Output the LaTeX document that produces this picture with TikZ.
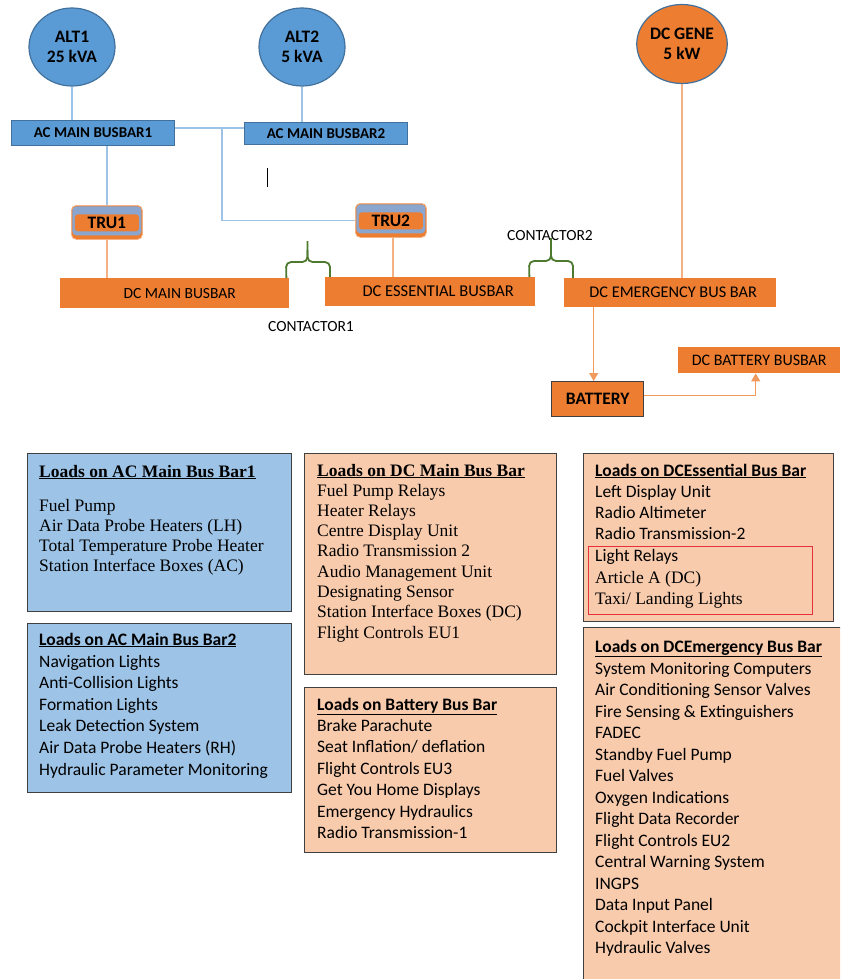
\documentclass[tikz,border=0pt]{standalone}
\usepackage{fontspec}
\setmainfont{Liberation Serif}
\newfontfamily\calfont{Carlito}
\usetikzlibrary{shapes.geometric,arrows.meta}
\definecolor{acblue}{HTML}{5B9BD5}
\definecolor{ellborder}{HTML}{41719C}
\definecolor{orangeC}{HTML}{ED7D31}
\definecolor{lorange}{HTML}{F4B183}
\definecolor{arrowC}{HTML}{F09A5E}
\definecolor{lblue}{HTML}{9DC3E6}
\definecolor{lbox}{HTML}{F8CBAD}
\definecolor{boxborder}{HTML}{404040}
\definecolor{trublue}{HTML}{8AA6CF}
\definecolor{greenC}{HTML}{4E7A30}
\definecolor{redC}{HTML}{E8303A}
\begin{document}
\begin{tikzpicture}[x=1pt,y=-1pt,
  ell/.style={ellipse, draw=ellborder, line width=1.2pt, inner sep=0pt, align=center,
    font=\calfont\bfseries\fontsize{17.5}{20}\selectfont},
  acbar/.style={rectangle, fill=acblue, draw=ellborder, line width=1pt, inner sep=0pt,
    font=\calfont\bfseries\fontsize{15}{18}\selectfont},
  dcbar/.style={rectangle, fill=orangeC, inner sep=0pt,
    font=\calfont\fontsize{15.5}{18}\selectfont},
  trubox/.style={rectangle, rounded corners=5pt, fill=orangeC, draw=lorange, line width=0.8pt,
    minimum width=71pt, minimum height=34pt, inner sep=0pt,
    font=\calfont\bfseries\fontsize{17.5}{20}\selectfont,
    path picture={
      \fill[trublue, rounded corners=4pt] ([shift={(1pt,-1pt)}]path picture bounding box.north west) rectangle ([shift={(-1pt,4pt)}]path picture bounding box.south east);
      \fill[orangeC, rounded corners=3pt] ([shift={(3.5pt,-9pt)}]path picture bounding box.north west) rectangle ([shift={(-3.5pt,8pt)}]path picture bounding box.south east);
    }},
  loadbox/.style={rectangle, draw=boxborder, line width=1pt, inner sep=0pt, anchor=north west},
  serifitem/.style={anchor=base west, inner sep=0pt, font=\fontsize{17.5}{20}\selectfont},
  sansitem/.style={anchor=base west, inner sep=0pt, font=\calfont\fontsize{17.5}{21}\selectfont},
  seriftitle/.style={anchor=base west, inner sep=0pt, font=\bfseries\fontsize{17.5}{20}\selectfont},
  sanstitle/.style={anchor=base west, inner sep=0pt, font=\calfont\bfseries\fontsize{17.5}{21}\selectfont},
  acline/.style={draw=lblue, line width=1.5pt},
  dcline/.style={draw=lorange, line width=1.3pt},
  arr/.style={draw=arrowC, line width=1.3pt, -{Triangle[length=8pt,width=9pt]}},
  brace/.style={draw=greenC, line width=1.8pt, rounded corners=5pt},
  contlabel/.style={inner sep=0pt, font=\calfont\fontsize{15.5}{18}\selectfont}
]
\useasboundingbox (0,0) rectangle (840,979);
\clip (0,0) rectangle (840,979);
\fill[white] (0,0) rectangle (840,979);

% sources
\node[ell, fill=acblue, minimum width=86pt, minimum height=78pt] (alt1) at (72,47) {ALT1\\25 kVA};
\node[ell, fill=acblue, minimum width=86pt, minimum height=78pt] (alt2) at (302,47) {ALT2\\5 kVA};
\node[ell, fill=orangeC, minimum width=89pt, minimum height=79pt] (dcgen) at (682,44) {DC GENE\\5 kW};

% AC busbars
\node[acbar, minimum width=163pt, minimum height=25pt, anchor=north west] (acbus1) at (11,120) {AC MAIN BUSBAR1};
\node[acbar, minimum width=163pt, minimum height=22pt, anchor=north west] (acbus2) at (244,122) {AC MAIN BUSBAR2};

% TRUs
\node[trubox, anchor=north west] (tru1) at (71,205) {TRU1};
\node[trubox, anchor=north west] (tru2) at (355,203) {TRU2};

% DC busbars
\node[dcbar, minimum width=229pt, minimum height=30pt, anchor=north west] (dcmain) at (60,278) {\hspace*{10pt}DC MAIN BUSBAR};
\node[dcbar, minimum width=210pt, minimum height=29pt, anchor=north west, font=\calfont\fontsize{16.5}{18}\selectfont] (dcess) at (325,277) {\hspace*{16pt}DC ESSENTIAL BUSBAR};
\node[dcbar, minimum width=212pt, minimum height=29pt, anchor=north west, font=\calfont\fontsize{16.3}{18}\selectfont] (dcemer) at (564,278) {\hspace*{6pt}DC EMERGENCY BUS BAR};
\node[dcbar, minimum width=162pt, minimum height=26pt, anchor=north west, font=\calfont\fontsize{16}{18}\selectfont] (battbus) at (678,347) {DC BATTERY BUSBAR};
\node[rectangle, fill=orangeC, draw=boxborder, line width=1.3pt, inner sep=0pt, minimum width=92pt, minimum height=35pt,
  anchor=north west, font=\calfont\bfseries\fontsize{17.5}{20}\selectfont] (battery) at (551,381) {BATTERY};

% AC connectors
\coordinate (j) at (222,128);
\draw[acline] (alt1.south) -- (alt1.south |- acbus1.north);
\draw[acline] (alt2.south) -- (alt2.south |- acbus2.north);
\draw[acline] (acbus1.east |- j) -- (acbus2.west |- j);
\draw[acline] (j) |- (tru2.west);
\draw[acline] (tru1.north |- acbus1.south) -- (tru1.north);

% DC connectors
\draw[dcline] (tru1.south) -- (tru1.south |- dcmain.north);
\draw[dcline] ([xshift=2pt]tru2.south) -- ([xshift=2pt]tru2.south |- dcess.north);
\draw[dcline] (dcgen.south) -- (dcgen.south |- dcemer.north);
\draw[arr] ([xshift=-4pt]battery.north |- dcemer.south) -- ([xshift=-4pt]battery.north);
\draw[arr] ([yshift=4pt]battery.east) -| ([xshift=-3.5pt]battbus.south);

% stray mark
\draw[black, line width=1pt] (267,168) -- (267,187);

% contactors
\node[contlabel] (c1) at (311,327) {CONTACTOR1};
\node[contlabel] (c2) at (550,235.5) {CONTACTOR2};
\draw[brace] ([xshift=-3pt]dcmain.north east) -- (286,262) -- (307.5,262) -- (307.5,241);
\draw[brace] ([xshift=5pt]dcess.north west) -- (330,262) -- (307.5,262) -- (307.5,250);
\draw[brace] ([xshift=-6pt]dcess.north east) -- (529,261) -- (551,261) -- (551,238);
\draw[brace] ([xshift=9pt]dcemer.north west) -- (573,261) -- (551,261) -- (551,248);

% load boxes
\node[loadbox, fill=lblue, minimum width=264pt, minimum height=158pt] (bAC1) at (27,453) {};
\node[seriftitle] (tAC1) at (39,477) {\underline{Loads on AC Main Bus Bar1}};
\foreach \t [count=\i] in {Fuel Pump, Air Data Probe Heaters (LH), Total Temperature Probe Heater, Station Interface Boxes (AC)}
  \node[serifitem] (ac1-\i) at (39,{511+20*(\i-1)}) {\t};

\node[loadbox, fill=lblue, minimum width=264pt, minimum height=169pt] (bAC2) at (27,623) {};
\node[sanstitle] (tAC2) at (39,645) {\underline{Loads on AC Main Bus Bar2}};
\foreach \t [count=\i] in {Navigation Lights, Anti-Collision Lights, Formation Lights, Leak Detection System, Air Data Probe Heaters (RH), Hydraulic Parameter Monitoring}
  \node[sansitem] (ac2-\i) at (39,{667+21.6*(\i-1)}) {\t};

\node[loadbox, fill=lbox, minimum width=252pt, minimum height=221pt] (bDCM) at (304,453) {};
\node[seriftitle] (tDCM) at (317,476) {\underline{Loads on DC Main Bus Bar}};
\foreach \t [count=\i] in {Fuel Pump Relays, Heater Relays, Centre Display Unit, Radio Transmission 2, Audio Management Unit, Designating Sensor, Station Interface Boxes (DC), Flight Controls EU1}
  \node[serifitem] (dcm-\i) at (317,{496+20.3*(\i-1)}) {\t};

\node[loadbox, fill=lbox, minimum width=252pt, minimum height=165pt] (bBat) at (304,687) {};
\node[sanstitle] (tBat) at (317,710) {\underline{Loads on Battery Bus Bar}};
\foreach \t [count=\i] in {Brake Parachute, Seat Inflation/ deflation, Flight Controls EU3, Get You Home Displays, Emergency Hydraulics, Radio Transmission-1}
  \node[sansitem] (bat-\i) at (317,{731+21.5*(\i-1)}) {\t};

\node[loadbox, fill=lbox, minimum width=250pt, minimum height=168pt] (bEss) at (583,453) {};
\node[sanstitle] (tEss) at (595,476) {\underline{Loads on DCEssential Bus Bar}};
\foreach \t [count=\i] in {Left Display Unit, Radio Altimeter, Radio Transmission-2}
  \node[sansitem] (ess-\i) at (595,{497+21.4*(\i-1)}) {\t};
\node[draw=redC, line width=1.2pt, inner sep=0pt, minimum width=224pt, minimum height=68pt, anchor=north west] (redbox) at (588,546) {};
\node[sansitem] (ess-4) at (595,561.5) {Light Relays};
\node[serifitem] (ess-5) at (595,583) {Article A (DC)};
\node[serifitem] (ess-6) at (595,604) {Taxi/ Landing Lights};

\node[loadbox, fill=lbox, minimum width=262pt, minimum height=360pt] (bEm) at (583,627) {};
\node[sanstitle] (tEm) at (595,652) {\underline{Loads on DCEmergency Bus Bar}};
\foreach \t [count=\i] in {System Monitoring Computers, Air Conditioning Sensor Valves, Fire Sensing \& Extinguishers, FADEC, Standby Fuel Pump, Fuel Valves, Oxygen Indications, Flight Data Recorder, Flight Controls EU2, Central Warning System, INGPS, Data Input Panel, Cockpit Interface Unit, Hydraulic Valves}
  \node[sansitem] (em-\i) at (595,{674+21.5*(\i-1)}) {\t};
\end{tikzpicture}
\end{document}
